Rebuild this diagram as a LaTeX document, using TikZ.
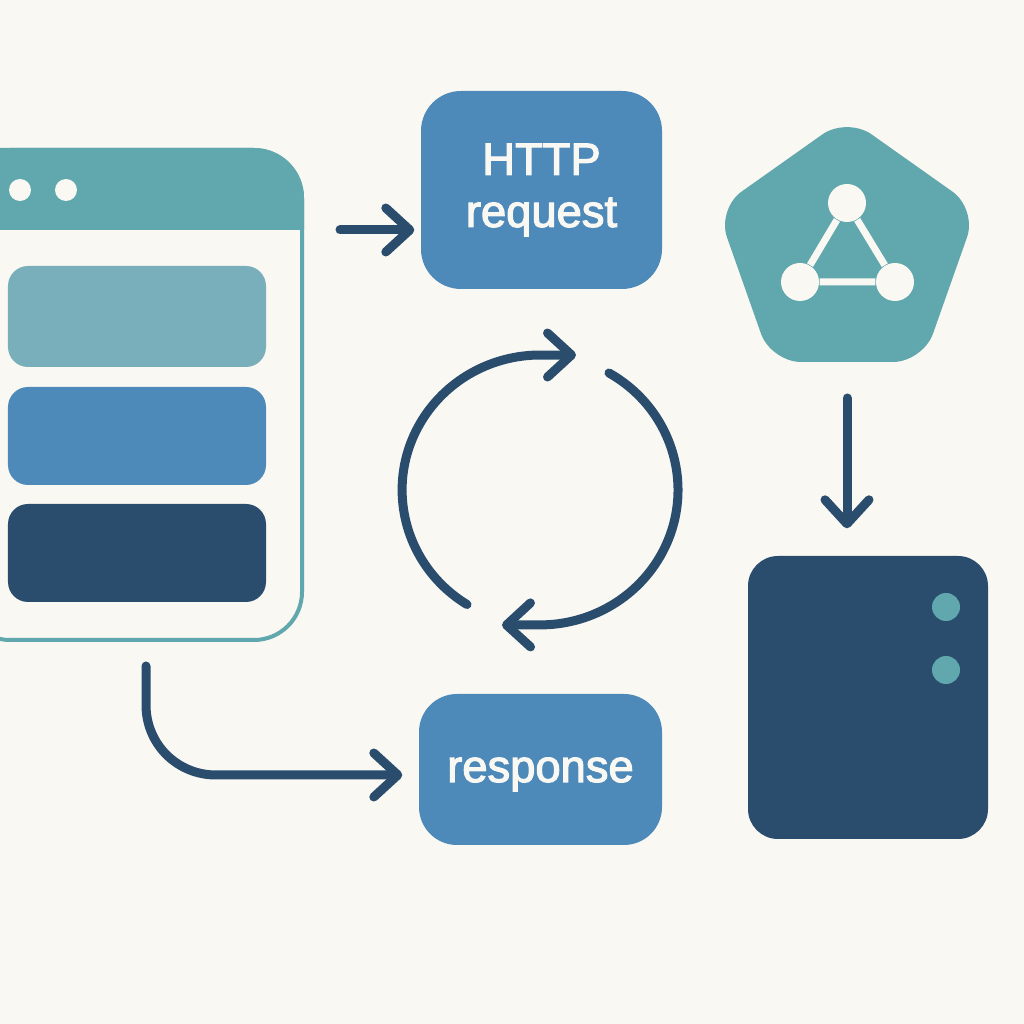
\documentclass[tikz,border=0pt]{standalone}
\usepackage{fontspec}
\setmainfont[FakeBold=2.5]{Liberation Sans}
\usetikzlibrary{arrows.meta}

\definecolor{paper}{HTML}{FAF8F2}
\definecolor{tealish}{HTML}{60A8AD}
\definecolor{palebar}{HTML}{78AFBB}
\definecolor{midblue}{HTML}{4D8ABA}
\definecolor{navy}{HTML}{2A4D6E}

\tikzset{
    flow/.style={->, navy, line width=0.09cm, line cap=round, line join=round},
    bar/.style={fill=#1, rounded corners=0.2cm, minimum width=2.58cm},
    msgbox/.style={fill=midblue, text=paper, align=center, font=\fontsize{12.9}{14.8}\selectfont},
    hubdot/.style={circle, fill=paper, minimum size=0.38cm, inner sep=0pt},
    paperdot/.style={circle, fill=paper, minimum size=0.22cm, inner sep=0pt},
    leddot/.style={circle, fill=tealish, minimum size=0.28cm, inner sep=0pt}
}

\begin{document}
\begin{tikzpicture}[>={Straight Barb[round, length=0.24cm, width=0.44cm]}]

% Page
\useasboundingbox (0,0) rectangle (10.24,10.24);
\clip (0,0) rectangle (10.24,10.24);
\fill[paper] (0,0) rectangle (10.24,10.24);

% Browser window
\node[draw=tealish, line width=0.04cm, rounded corners=0.48cm, minimum width=3.40cm, minimum height=4.90cm] (win) at (1.32,6.29) {};
\fill[tealish] (-0.4,7.94) -- (-0.4,8.76) -- (2.54,8.76) arc (90:0:0.5) -- (3.04,7.94) -- cycle;
\node[paperdot] (dota) at (0.20,8.34) {};
\node[paperdot] (dotb) at (0.66,8.34) {};

% Content bars
\node[bar=palebar, minimum height=1.01cm] (bara) at (1.37,7.075) {};
\node[bar=midblue, minimum height=0.98cm] (barb) at (1.37,5.88) {};
\node[bar=navy, minimum height=0.98cm] (barc) at (1.37,4.71) {};

% Message boxes
\node[msgbox, rounded corners=0.4cm, minimum width=2.41cm, minimum height=1.98cm] (request) at (5.415,8.34) {HTTP\\request};
\node[msgbox, rounded corners=0.38cm, minimum width=2.43cm, minimum height=1.51cm, text height=0.34cm, text depth=0.09cm] (response) at (5.405,2.545) {response};

% Pentagon with triangle
\fill[tealish, rounded corners=0.3cm] (8.47,9.07) -- (9.77,8.15) -- (9.23,6.62) -- (7.71,6.62) -- (7.17,8.15) -- cycle;
\coordinate (hub) at (8.47,6.62);
\node[hubdot] (hubtop) at (8.47,8.21) {};
\node[hubdot] (hubleft) at (8.00,7.42) {};
\node[hubdot] (hubright) at (8.95,7.42) {};
\draw[paper, line width=0.07cm] (hubtop) -- (hubleft) -- (hubright) -- (hubtop);

% Server
\node[fill=navy, rounded corners=0.3cm, minimum width=2.40cm, minimum height=2.83cm] (server) at (8.68,3.265) {};
\node[leddot] (leda) at (9.46,4.17) {};
\node[leddot] (ledb) at (9.46,3.54) {};

% Arrows between boxes
\coordinate (reqin) at (request.west |- 0,7.94);
\draw[flow, shorten <=0.36cm, shorten >=0.06cm] (win.east |- reqin) -- (reqin);
\draw[flow, shorten <=0.36cm, shorten >=0.27cm] (hub) -- (hub |- server.north);
\coordinate (winout) at ([xshift=0.14cm]win.south);
\coordinate (respin) at (response.west |- 0,2.49);
\draw[flow, shorten <=0.24cm, shorten >=0.16cm] (winout) -- (1.46,3.19)
    .. controls (1.46,2.80) and (1.77,2.49) .. (2.16,2.49) -- (respin);

% Cycle
\coordinate (loopa) at (4.67,4.195);
\coordinate (loopb) at (6.09,6.51);
\coordinate (looptop) at (5.76,6.69);
\coordinate (loopbot) at (5.02,3.99);
\draw[flow] (loopa) arc[start angle=238, end angle=90, x radius=1.38, y radius=1.35] -- (looptop);
\draw[flow] (loopb) arc[start angle=60, end angle=-90, x radius=1.38, y radius=1.35] -- (loopbot);

\end{tikzpicture}
\end{document}
